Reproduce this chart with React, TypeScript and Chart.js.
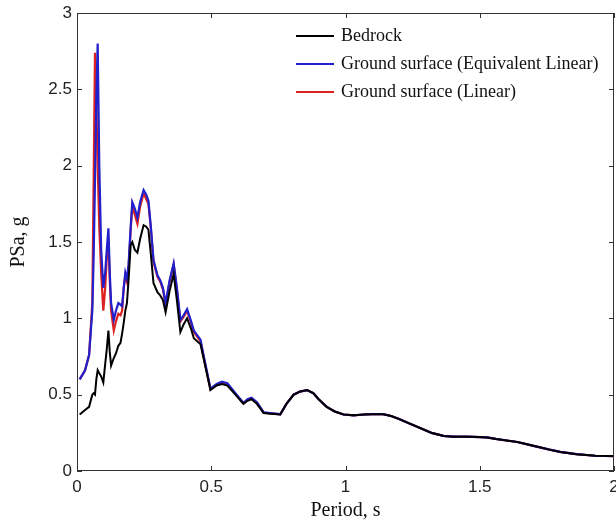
import React, { useEffect, useRef } from "react";
import { Chart, registerables } from "chart.js";

Chart.register(...registerables);

const periods = [
  0.01, 0.03, 0.045, 0.057, 0.062, 0.067, 0.072, 0.077, 0.083, 0.09, 0.098, 0.105, 0.111, 0.117,
  0.122, 0.127, 0.137, 0.145, 0.154, 0.162, 0.168, 0.174, 0.18, 0.186, 0.192, 0.2, 0.206, 0.215,
  0.225, 0.235, 0.248, 0.258, 0.266, 0.275, 0.285, 0.3, 0.31, 0.32, 0.33, 0.345, 0.36, 0.372,
  0.385, 0.397, 0.41, 0.425, 0.435, 0.46, 0.47, 0.497, 0.52, 0.54, 0.56, 0.59, 0.62, 0.635, 0.65,
  0.67, 0.695, 0.72, 0.757, 0.78, 0.807, 0.83, 0.857, 0.88, 0.9, 0.93, 0.96, 0.993, 1.03, 1.07,
  1.1, 1.14, 1.17, 1.2, 1.24, 1.28, 1.32, 1.365, 1.4, 1.45, 1.5, 1.527, 1.56, 1.6, 1.64, 1.7,
  1.76, 1.8, 1.86, 1.93, 2.0,
];

const bedrock = [
  0.37, 0.4, 0.42, 0.5, 0.51, 0.5, 0.6, 0.66, 0.64, 0.62, 0.58, 0.7, 0.8, 0.92,
  0.78, 0.69, 0.74, 0.77, 0.82, 0.84, 0.9, 0.97, 1.05, 1.1, 1.25, 1.48, 1.5, 1.45,
  1.43, 1.52, 1.61, 1.6, 1.58, 1.42, 1.23, 1.17, 1.15, 1.12, 1.04, 1.18, 1.29, 1.12,
  0.91, 0.96, 1.0, 0.93, 0.87, 0.83, 0.75, 0.53, 0.56, 0.57, 0.56, 0.5, 0.44, 0.46, 0.47,
  0.44, 0.38, 0.375, 0.37, 0.44, 0.5, 0.52, 0.53, 0.51, 0.47, 0.42, 0.39, 0.37, 0.365, 0.37,
  0.372, 0.372, 0.36, 0.34, 0.31, 0.28, 0.25, 0.23, 0.225, 0.225, 0.222, 0.22, 0.21, 0.2, 0.19, 0.165,
  0.14, 0.125, 0.11, 0.1, 0.098,
];

const groundEquivalentLinear = [
  0.6, 0.66, 0.76, 1.05, 1.4, 1.9, 2.45, 2.8, 2.0, 1.45, 1.2, 1.3, 1.45, 1.59,
  1.3, 1.1, 0.99, 1.05, 1.1, 1.09, 1.08, 1.2, 1.3, 1.26, 1.35, 1.6, 1.76, 1.72,
  1.66, 1.76, 1.84, 1.81, 1.77, 1.6, 1.38, 1.28, 1.25, 1.2, 1.1, 1.25, 1.36, 1.2,
  0.99, 1.02, 1.06, 0.98, 0.92, 0.86, 0.77, 0.54, 0.57, 0.585, 0.575, 0.51, 0.445, 0.47, 0.48,
  0.45, 0.385, 0.38, 0.372, 0.44, 0.5, 0.52, 0.53, 0.51, 0.47, 0.42, 0.39, 0.37, 0.365, 0.37,
  0.372, 0.372, 0.36, 0.34, 0.31, 0.28, 0.25, 0.23, 0.225, 0.225, 0.222, 0.22, 0.21, 0.2, 0.19, 0.165,
  0.14, 0.125, 0.11, 0.1, 0.098,
];

const groundLinear = [
  0.6, 0.66, 0.76, 1.1, 1.9, 2.74, 2.4, 2.0, 1.6, 1.3, 1.05, 1.2, 1.4, 1.52,
  1.25, 1.05, 0.92, 0.98, 1.03, 1.02, 1.05, 1.2, 1.28, 1.24, 1.33, 1.58, 1.74, 1.68,
  1.62, 1.73, 1.82, 1.78, 1.75, 1.59, 1.37, 1.27, 1.24, 1.19, 1.09, 1.24, 1.35, 1.19,
  0.98, 1.01, 1.05, 0.97, 0.91, 0.85, 0.76, 0.535, 0.565, 0.58, 0.57, 0.505, 0.443, 0.467, 0.477,
  0.447, 0.383, 0.378, 0.371, 0.44, 0.5, 0.52, 0.53, 0.51, 0.47, 0.42, 0.39, 0.37, 0.365, 0.37,
  0.372, 0.372, 0.36, 0.34, 0.31, 0.28, 0.25, 0.23, 0.225, 0.225, 0.222, 0.22, 0.21, 0.2, 0.19, 0.165,
  0.14, 0.125, 0.11, 0.1, 0.098,
];

const xTicks = [0, 0.5, 1, 1.5, 2];
const yTicks = [0, 0.5, 1, 1.5, 2, 2.5, 3];
const seriesLabels = ["Bedrock", "Ground surface (Equivalent Linear)", "Ground surface (Linear)"];
const seriesColors = ["#000000", "#2020cc", "#dd2020"];
const xTitle = "Period, s";
const yTitle = "PSa, g";

const framePlugin = {
  id: "frame",
  afterDraw(chart: any) {
    const { ctx, chartArea: a, scales } = chart;
    ctx.save();
    ctx.strokeStyle = "#333333";
    ctx.lineWidth = 1;
    ctx.strokeRect(a.left + 0.5, a.top + 0.5, a.right - a.left - 1, a.bottom - a.top - 1);
    const tl = 5;
    ctx.beginPath();
    for (const v of xTicks) {
      const x = Math.round(scales.x.getPixelForValue(v)) + 0.5;
      ctx.moveTo(x, a.bottom);
      ctx.lineTo(x, a.bottom - tl);
      ctx.moveTo(x, a.top);
      ctx.lineTo(x, a.top + tl);
    }
    for (const v of yTicks) {
      const y = Math.round(scales.y.getPixelForValue(v)) + 0.5;
      ctx.moveTo(a.left, y);
      ctx.lineTo(a.left + tl, y);
      ctx.moveTo(a.right, y);
      ctx.lineTo(a.right - tl, y);
    }
    ctx.stroke();

    // legend
    const lx = 296;
    const ly = [36, 64, 92];
    ctx.font = "18px 'Liberation Serif'";
    ctx.textBaseline = "middle";
    ctx.textAlign = "left";
    seriesLabels.forEach((lab, i) => {
      ctx.strokeStyle = seriesColors[i];
      ctx.lineWidth = 2;
      ctx.beginPath();
      ctx.moveTo(lx, ly[i]);
      ctx.lineTo(lx + 38, ly[i]);
      ctx.stroke();
      ctx.fillStyle = "#111111";
      ctx.fillText(lab, lx + 45, ly[i]);
    });

    // axis titles
    ctx.fillStyle = "#111111";
    ctx.font = "20px 'Liberation Serif'";
    ctx.textAlign = "center";
    ctx.fillText(xTitle, (a.left + a.right) / 2, 511);
    ctx.save();
    ctx.translate(19, (a.top + a.bottom) / 2);
    ctx.rotate(-Math.PI / 2);
    ctx.fillText(yTitle, 0, 0);
    ctx.restore();
    ctx.restore();
  },
};

export default function App() {
  const ref = useRef<HTMLCanvasElement>(null);
  useEffect(() => {
    if (!ref.current) return;
    const mk = (vals: number[]) => periods.map((p, i) => ({ x: p, y: vals[i] }));
    const chart = new Chart(ref.current, {
      type: "line",
      data: {
        datasets: [
          { label: seriesLabels[0], data: mk(bedrock), borderColor: seriesColors[0], borderWidth: 2, pointRadius: 0, tension: 0, fill: false },
          { label: seriesLabels[1], data: mk(groundEquivalentLinear), borderColor: seriesColors[1], borderWidth: 2.2, pointRadius: 0, tension: 0, fill: false },
          { label: seriesLabels[2], data: mk(groundLinear), borderColor: seriesColors[2], borderWidth: 2.2, pointRadius: 0, tension: 0, fill: false },
        ],
      },
      options: {
        animation: false,
        responsive: false,
        events: [],
        layout: { padding: { top: 13, right: 2, left: 0, bottom: 0 } },
        plugins: { legend: { display: false }, tooltip: { enabled: false } },
        scales: {
          x: {
            type: "linear",
            min: 0,
            max: 2,
            grid: { display: false, drawTicks: false },
            border: { display: false },
            afterBuildTicks: (s: any) => { s.ticks = xTicks.map((v) => ({ value: v })); },
            ticks: { padding: 6, color: "#222222", font: { family: "'Liberation Sans'", size: 17 }, callback: (v: any) => String(v) },
            afterFit: (s: any) => { s.height = 58; s.paddingLeft = 0; s.paddingRight = 0; },
          },
          y: {
            type: "linear",
            min: 0,
            max: 3,
            grid: { display: false, drawTicks: false },
            border: { display: false },
            afterBuildTicks: (s: any) => { s.ticks = yTicks.map((v) => ({ value: v })); },
            ticks: { padding: 5, color: "#222222", font: { family: "'Liberation Sans'", size: 17 }, callback: (v: any) => String(v) },
            afterFit: (s: any) => { s.width = 77; s.paddingTop = 0; s.paddingBottom = 0; },
          },
        },
      },
      plugins: [framePlugin],
    });
    return () => chart.destroy();
  }, []);
  return (
    <div style={{ position: "absolute", left: 0, top: 0, width: 616, height: 529, background: "#fff" }}>
      <canvas ref={ref} width={616} height={529} />
    </div>
  );
}
